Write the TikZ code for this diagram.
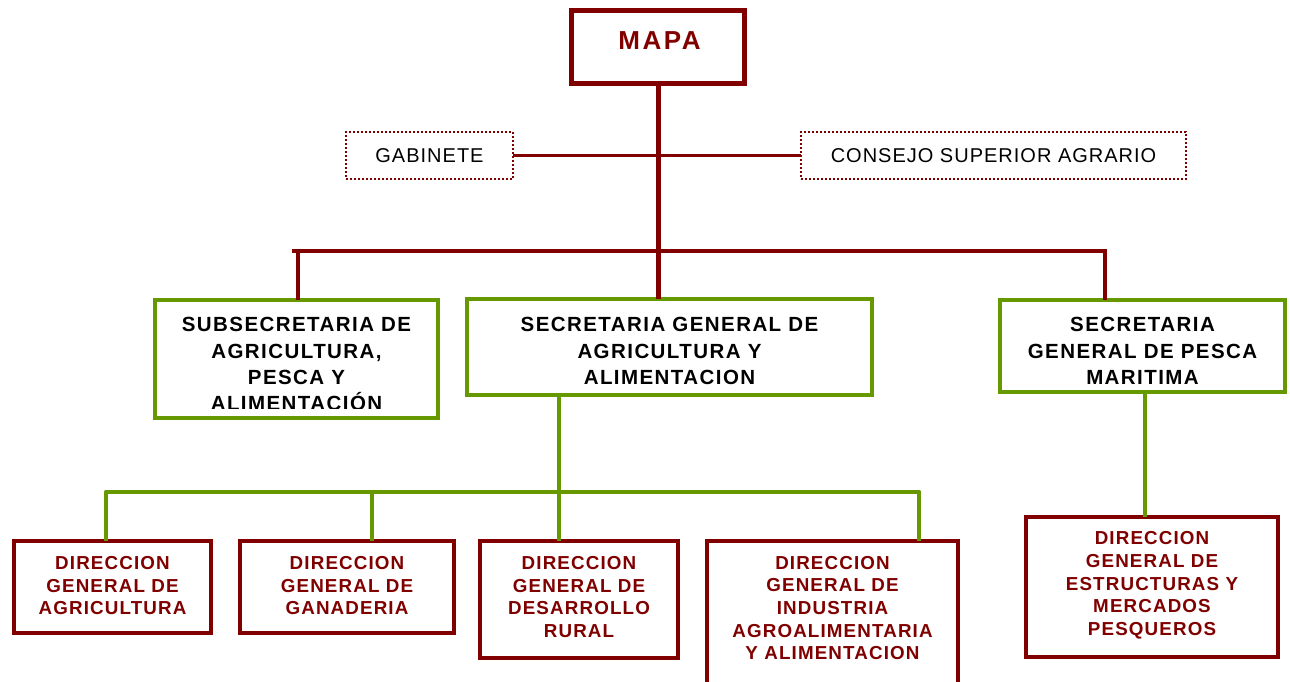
\documentclass[tikz,border=0pt]{standalone}
\usepackage{fontspec}
\setmainfont{Liberation Sans}
\newfontfamily\regsp[LetterSpace=5]{Liberation Sans}
\newfontfamily\boldsp[LetterSpace=7]{Liberation Sans}
\newfontfamily\boldspb[LetterSpace=6]{Liberation Sans}
\newfontfamily\mapasp[LetterSpace=10]{Liberation Sans}
\usetikzlibrary{fit}
\definecolor{dred}{RGB}{128,0,0}
\definecolor{lgreen}{RGB}{102,153,0}
\tikzset{
  mapabox/.style={draw=dred,line width=5pt,inner sep=0pt,outer sep=0pt},
  greenbox/.style={draw=lgreen,line width=3.8pt,inner sep=0pt,outer sep=0pt},
  redbox/.style={draw=dred,line width=4pt,inner sep=0pt,outer sep=0pt},
  dotbox/.style={draw=dred,line width=2pt,dash pattern=on 2pt off 2pt,inner sep=0pt,outer sep=0pt},
  redline/.style={draw=dred,line width=4pt},
  thickred/.style={draw=dred,line width=5pt},
  thinred/.style={draw=dred,line width=2.5pt},
  greenline/.style={draw=lgreen,line width=4pt,line join=round},
  txtg/.style={font=\fontsize{20.5}{26.3}\selectfont\boldsp\bfseries,align=center,text depth=0pt,inner sep=0pt,text=black},
  txtr/.style={font=\fontsize{18.8}{22.6}\selectfont\boldspb\bfseries,align=center,text depth=0pt,inner sep=0pt,text=dred},
  txtn/.style={font=\fontsize{20}{24}\selectfont\regsp,align=center,text depth=0pt,inner sep=0pt,text=black},
  txtm/.style={font=\fontsize{26}{30}\selectfont\mapasp\bfseries,align=center,text depth=0pt,inner sep=0pt,text=dred},
}
\begin{document}
\begin{tikzpicture}[x=1pt,y=-1pt]
\clip (0,0) rectangle (1290,681);
\fill[white] (0,0) rectangle (1290,681);
% boxes
\node[mapabox,fit={(571.5,10.5) (744.5,83.2)}] (mapa) {};
\node[dotbox,fit={(346,132) (513,179)}] (gab) {};
\node[dotbox,fit={(801,132) (1186,179)}] (csa) {};
\node[greenbox,fit={(155,300) (438,418)}] (sub) {};
\node[greenbox,fit={(467,299.3) (872,394.7)}] (sg) {};
\node[greenbox,fit={(1000,300) (1285,392)}] (pes) {};
\node[redbox,fit={(14,541) (211,633)}] (b1) {};
\node[redbox,fit={(240,541) (454,633)}] (b2) {};
\node[redbox,fit={(480,541) (678,658)}] (b3) {};
\node[redbox,fit={(707,541) (958,700)}] (b4) {};
\node[redbox,fit={(1026,517) (1278,657)}] (b5) {};
% texts
\node[txtm] (tmapa) at (659.5,40.5) {MAPA};
\node[txtn] (tgab) at (429.5,156) {GABINETE};
\node[txtn] (tcsa) at (993.5,156) {CONSEJO SUPERIOR AGRARIO};
\begin{scope}
\clip (155,300) rectangle (438,408.3);
\node[txtg] (tsub) at (296.5,364) {SUBSECRETARIA DE\\AGRICULTURA,\\PESCA Y\\ALIMENTACIÓN};
\end{scope}
\node[txtg] (tsg) at (669.5,351) {SECRETARIA GENERAL DE\\AGRICULTURA Y\\ALIMENTACION};
\node[txtg] (tpes) at (1142.5,351) {SECRETARIA\\GENERAL DE PESCA\\MARITIMA};
\node[txtr] (tb1) at (112.5,585.5) {DIRECCION\\GENERAL DE\\AGRICULTURA};
\node[txtr] (tb2) at (347,585.5) {DIRECCION\\GENERAL DE\\GANADERIA};
\node[txtr] (tb3) at (579,597) {DIRECCION\\GENERAL DE\\DESARROLLO\\RURAL};
\node[txtr] (tb4) at (832.5,608) {DIRECCION\\GENERAL DE\\INDUSTRIA\\AGROALIMENTARIA\\Y ALIMENTACION};
\node[txtr] (tb5) at (1152,583.5) {DIRECCION\\GENERAL DE\\ESTRUCTURAS Y\\MERCADOS\\PESQUEROS};
% connectors (red)
\draw[thinred] (gab.east) -- (csa.west);
\coordinate (barL) at (292,251);
\coordinate (barS) at (297.7,251);
\coordinate (barR) at (1105,251);
\draw[redline] (barL) -- (barR) -- (barR |- pes.north);
\draw[redline] (barS) -- (barS |- sub.north);
\draw[thickred] (mapa.south) -- (mapa.south |- sg.north);
% connectors (green)
\coordinate (gL) at (106,491.5);
\coordinate (g2) at (372,491.5);
\coordinate (g3) at (558.7,491.5);
\coordinate (gR) at (919.3,491.5);
\coordinate (g5) at (1145.3,450);
\draw[greenline] (gL |- b1.north) -- (gL) -- (gR) -- (gR |- b4.north);
\draw[greenline] (g2) -- (g2 |- b2.north);
\draw[greenline] (g3 |- sg.south) -- (g3 |- b3.north);
\draw[greenline] (g5 |- pes.south) -- (g5 |- b5.north);
\end{tikzpicture}
\end{document}
